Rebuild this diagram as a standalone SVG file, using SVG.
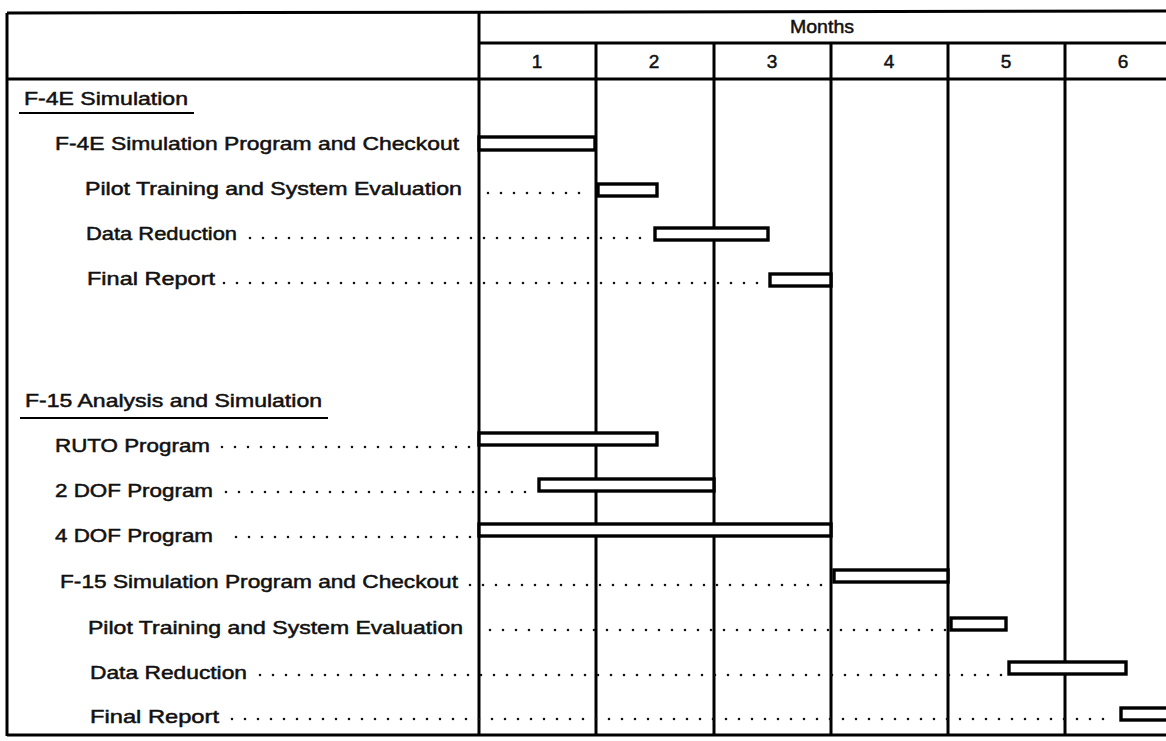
<svg xmlns="http://www.w3.org/2000/svg" width="1166" height="741" viewBox="0 0 1166 741">
  <style>
    .grid { stroke: #000; stroke-width: 3; fill: none; }
    .bar { fill: #fff; stroke: #000; stroke-width: 3.4; }
    .lbl { font-family: "Liberation Sans", Arial, sans-serif; font-size: 19px; fill: #111; stroke: #111; stroke-width: 0.5; }
    .hdr { font-family: "Liberation Sans", Arial, sans-serif; font-size: 19px; fill: #111; stroke: #111; stroke-width: 0.5; text-anchor: middle; }
    .dots { stroke: #111; stroke-width: 2.6; stroke-linecap: round; stroke-dasharray: 0 13; fill: none; }
    .ul { stroke: #000; stroke-width: 2.2; }
  </style>
  <rect width="1166" height="741" fill="#fff"/>

  <!-- table frame and month grid -->
  <g id="grid">
    <line class="grid" x1="7" y1="13" x2="1166" y2="11"/>
    <line class="grid" x1="7" y1="13" x2="7" y2="736"/>
    <line class="grid" x1="7" y1="735" x2="1166" y2="735"/>
    <line class="grid" x1="479" y1="43" x2="1166" y2="43"/>
    <line class="grid" x1="7" y1="79" x2="1166" y2="79"/>
    <line class="grid" x1="479" y1="12" x2="479" y2="735"/>
    <line class="grid" x1="596" y1="43" x2="596" y2="735"/>
    <line class="grid" x1="714" y1="43" x2="714" y2="735"/>
    <line class="grid" x1="831" y1="43" x2="831" y2="735"/>
    <line class="grid" x1="948" y1="43" x2="948" y2="735"/>
    <line class="grid" x1="1065" y1="43" x2="1065" y2="735"/>
  </g>

  <!-- column headings -->
  <g id="header">
    <text class="hdr" x="822" y="33" textLength="64" lengthAdjust="spacingAndGlyphs">Months</text>
    <text class="hdr" x="537" y="68">1</text>
    <text class="hdr" x="654" y="68">2</text>
    <text class="hdr" x="772" y="68">3</text>
    <text class="hdr" x="889" y="68">4</text>
    <text class="hdr" x="1006" y="68">5</text>
    <text class="hdr" x="1123" y="68">6</text>
  </g>

  <!-- dotted leaders from task names to their bars -->
  <g id="connectors">
    <line class="dots" x1="488" y1="193" x2="590" y2="193"/>
    <line class="dots" x1="250" y1="238" x2="650" y2="238"/>
    <line class="dots" x1="224" y1="283" x2="765" y2="283"/>
    <line class="dots" x1="222" y1="447" x2="472" y2="447"/>
    <line class="dots" x1="226" y1="492" x2="534" y2="492"/>
    <line class="dots" x1="236" y1="537" x2="472" y2="537"/>
    <line class="dots" x1="470" y1="585" x2="830" y2="585"/>
    <line class="dots" x1="490" y1="630" x2="946" y2="630"/>
    <line class="dots" x1="260" y1="675" x2="1004" y2="675"/>
    <line class="dots" x1="232" y1="719" x2="1116" y2="719"/>
  </g>

  <!-- section: F-4E -->
  <g id="sec-f4e">
    <text class="lbl" x="24" y="105" textLength="164" lengthAdjust="spacingAndGlyphs">F-4E Simulation</text>
    <line class="ul" x1="19" y1="113" x2="194" y2="113"/>
  </g>
  <g id="f4e-checkout">
    <text class="lbl" x="55" y="150" textLength="404" lengthAdjust="spacingAndGlyphs">F-4E Simulation Program and Checkout</text>
    <rect class="bar" x="479" y="137" width="116" height="13"/>
  </g>
  <g id="f4e-pilot">
    <text class="lbl" x="85" y="195" textLength="377" lengthAdjust="spacingAndGlyphs">Pilot Training and System Evaluation</text>
    <rect class="bar" x="598" y="184" width="59" height="12"/>
  </g>
  <g id="f4e-data">
    <text class="lbl" x="86" y="240" textLength="151" lengthAdjust="spacingAndGlyphs">Data Reduction</text>
    <rect class="bar" x="655" y="228" width="113" height="12"/>
  </g>
  <g id="f4e-report">
    <text class="lbl" x="87" y="285" textLength="128" lengthAdjust="spacingAndGlyphs">Final Report</text>
    <rect class="bar" x="770" y="274" width="61" height="12"/>
  </g>

  <!-- section: F-15 -->
  <g id="sec-f15">
    <text class="lbl" x="25" y="407" textLength="297" lengthAdjust="spacingAndGlyphs">F-15 Analysis and Simulation</text>
    <line class="ul" x1="20" y1="418" x2="328" y2="418"/>
  </g>
  <g id="f15-ruto">
    <text class="lbl" x="55" y="452" textLength="155" lengthAdjust="spacingAndGlyphs">RUTO Program</text>
    <rect class="bar" x="479" y="433" width="178" height="12"/>
  </g>
  <g id="f15-2dof">
    <text class="lbl" x="55" y="497" textLength="158" lengthAdjust="spacingAndGlyphs">2 DOF Program</text>
    <rect class="bar" x="539" y="479" width="175" height="12"/>
  </g>
  <g id="f15-4dof">
    <text class="lbl" x="55" y="542" textLength="158" lengthAdjust="spacingAndGlyphs">4 DOF Program</text>
    <rect class="bar" x="479" y="524" width="352" height="12"/>
  </g>
  <g id="f15-checkout">
    <text class="lbl" x="60" y="588" textLength="398" lengthAdjust="spacingAndGlyphs">F-15 Simulation Program and Checkout</text>
    <rect class="bar" x="834" y="570" width="114" height="12"/>
  </g>
  <g id="f15-pilot">
    <text class="lbl" x="88" y="634" textLength="375" lengthAdjust="spacingAndGlyphs">Pilot Training and System Evaluation</text>
    <rect class="bar" x="951" y="618" width="55" height="12"/>
  </g>
  <g id="f15-data">
    <text class="lbl" x="90" y="679" textLength="157" lengthAdjust="spacingAndGlyphs">Data Reduction</text>
    <rect class="bar" x="1009" y="662" width="117" height="12"/>
  </g>
  <g id="f15-report">
    <text class="lbl" x="90" y="723" textLength="129" lengthAdjust="spacingAndGlyphs">Final Report</text>
    <rect class="bar" x="1121" y="708" width="50" height="12"/>
  </g>
</svg>
